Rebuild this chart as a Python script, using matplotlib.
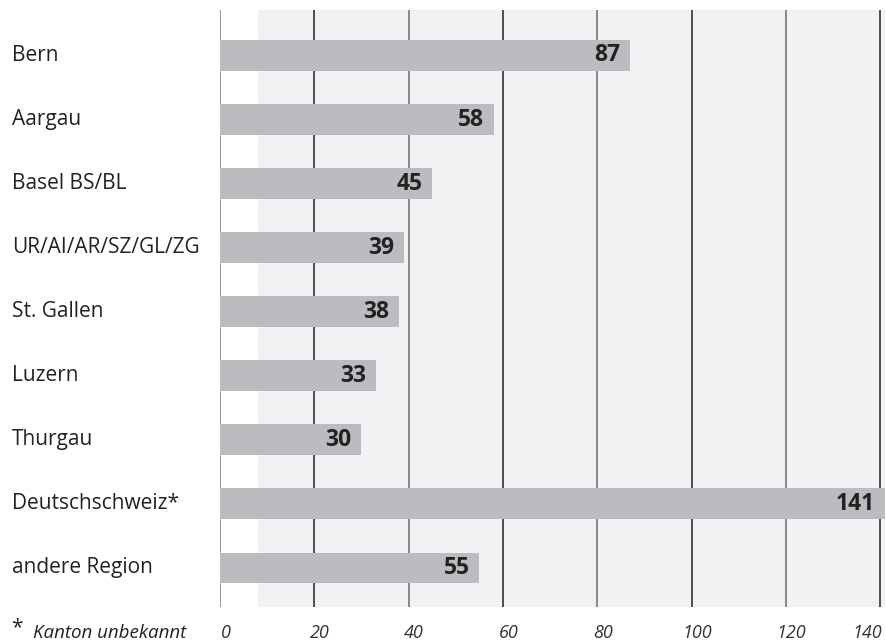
import matplotlib
matplotlib.use("Agg")
import matplotlib.pyplot as plt
from matplotlib.transforms import blended_transform_factory

# ---- data -------------------------------------------------------------
regions = ["Bern", "Aargau", "Basel BS/BL", "UR/AI/AR/SZ/GL/ZG", "St. Gallen",
           "Luzern", "Thurgau", "Deutschschweiz*", "andere Region"]
counts = [87, 58, 45, 39, 38, 33, 30, 141, 55]
xticks = [0, 20, 40, 60, 80, 100, 120, 140]
footnote = "Kanton unbekannt"

# ---- style ------------------------------------------------------------
C_BAR = "#bbbcc0"
C_SHADE = "#f1f2f4"
C_TEXT = "#222222"
FONT = ["Open Sans", "DejaVu Sans"]
plt.rcParams["font.family"] = FONT

fig = plt.figure(figsize=(8.86, 6.43), dpi=100)
W, H = 886, 643
ax = fig.add_axes([220 / W, 1 - 607 / H, 665 / W, 597 / H])

ypos = list(range(len(regions)))
ax.set_xlim(0, 141)
ax.set_ylim(8.61, -0.71)

# light background panel and vertical grid
ax.axvspan(8, 141, color=C_SHADE, zorder=0, lw=0)
ax.axvline(0, color="#888888", lw=1.2, zorder=1)
for i, t in enumerate(xticks[1:]):
    ax.axvline(t, color="#333333" if i % 2 == 0 else "#777777", lw=1.2, zorder=1)

ax.barh(ypos, counts, height=0.48, color=C_BAR, zorder=2, lw=0)

for y, v in zip(ypos, counts):
    ax.annotate(str(v), xy=(v, y), xytext=(-7, 0), textcoords="offset points",
                ha="right", va="center", fontsize=16.5, fontweight="bold",
                color=C_TEXT, zorder=3)

# category labels on the left
trans = blended_transform_factory(fig.transFigure, ax.transData)
for y, name in zip(ypos, regions):
    fig.text(12 / W, y, name, transform=trans, ha="left", va="center",
             fontsize=15, color=C_TEXT)

# x tick labels, drawn as text so the last one can sit inside the figure
ax.set_xticks([])
ax.set_yticks([])
tick_trans = blended_transform_factory(ax.transData, fig.transFigure)
for t in xticks:
    last = t == xticks[-1]
    ax.annotate(str(t), xy=(t, 1 - 633 / H), xycoords=tick_trans,
                xytext=(1 if last else 4, 0), textcoords="offset points",
                ha="right" if last else "center", va="center",
                fontsize=13, fontstyle="italic", color="#333333",
                annotation_clip=False)
for s in ax.spines.values():
    s.set_visible(False)

fig.text(11 / W, 1 - 628 / H, "*", ha="left", va="center",
         fontsize=15, color=C_TEXT)
fig.text(33 / W, 1 - 633 / H, footnote, ha="left", va="center",
         fontsize=13.5, fontstyle="italic", color=C_TEXT)

fig.savefig("out.png", dpi=100)
